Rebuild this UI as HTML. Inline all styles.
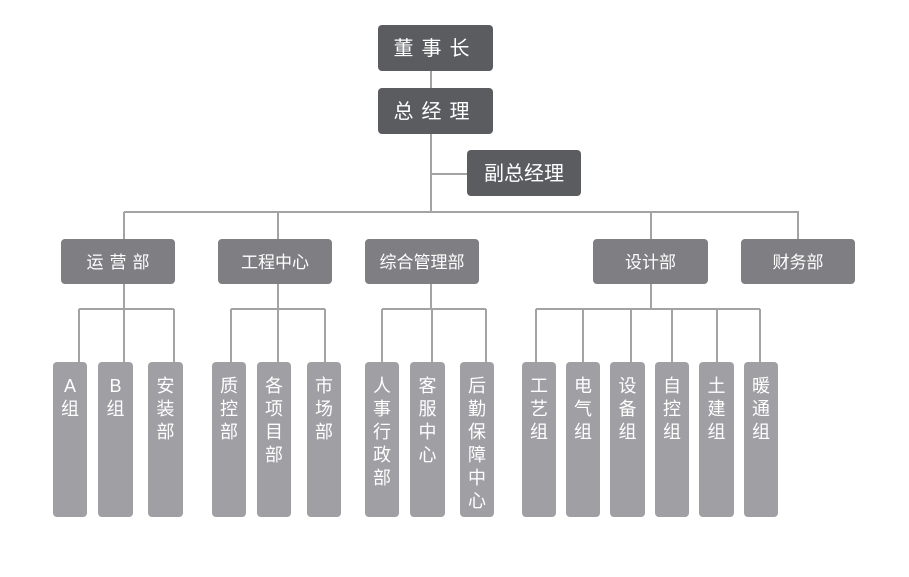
<!DOCTYPE html>
<html><head><meta charset="utf-8"><style>
html,body{margin:0;padding:0;background:#fff;}
svg{display:block;}
text{font-family:"Liberation Sans","Noto Sans CJK SC",sans-serif;fill:#fff;}
</style></head><body>
<svg width="909" height="577" viewBox="0 0 909 577" xmlns="http://www.w3.org/2000/svg">
<g stroke="#a3a3a6" stroke-width="2" fill="none">
<line x1="431" y1="71" x2="431" y2="212"/>
<line x1="431" y1="174" x2="467" y2="174"/>
<line x1="124" y1="212" x2="799" y2="212"/>
<line x1="124" y1="212" x2="124" y2="239"/>
<line x1="278" y1="212" x2="278" y2="239"/>
<line x1="651" y1="212" x2="651" y2="239"/>
<line x1="798" y1="212" x2="798" y2="239"/>
<line x1="124" y1="284" x2="124" y2="309"/>
<line x1="278" y1="284" x2="278" y2="309"/>
<line x1="431" y1="284" x2="431" y2="309"/>
<line x1="651" y1="284" x2="651" y2="309"/>
<line x1="79" y1="309" x2="174" y2="309"/>
<line x1="231" y1="309" x2="325" y2="309"/>
<line x1="382" y1="309" x2="486" y2="309"/>
<line x1="536" y1="309" x2="760" y2="309"/>
<line x1="79" y1="309" x2="79" y2="362"/><line x1="124" y1="309" x2="124" y2="362"/><line x1="174" y1="309" x2="174" y2="362"/>
<line x1="231" y1="309" x2="231" y2="362"/><line x1="278" y1="309" x2="278" y2="362"/><line x1="325" y1="309" x2="325" y2="362"/>
<line x1="382" y1="309" x2="382" y2="362"/><line x1="432" y1="309" x2="432" y2="362"/><line x1="486" y1="309" x2="486" y2="362"/>
<line x1="536" y1="309" x2="536" y2="362"/><line x1="583" y1="309" x2="583" y2="362"/><line x1="631" y1="309" x2="631" y2="362"/>
<line x1="672" y1="309" x2="672" y2="362"/><line x1="717" y1="309" x2="717" y2="362"/><line x1="760" y1="309" x2="760" y2="362"/>
</g>
<g fill="#5b5c60">
<rect x="378" y="25" width="115" height="46" rx="4"/>
<rect x="378" y="88" width="115" height="46" rx="4"/>
<rect x="467" y="150" width="114" height="46" rx="4"/>
</g>
<g font-size="20" text-anchor="middle">
<text x="435.5" y="55" letter-spacing="8">董事长</text>
<text x="435.5" y="118" letter-spacing="8">总经理</text>
<text x="524" y="180">副总经理</text>
</g>
<g fill="#7f7f83">
<rect x="61" y="239" width="114" height="45" rx="4"/>
<rect x="218" y="239" width="114" height="45" rx="4"/>
<rect x="365" y="239" width="114" height="45" rx="4"/>
<rect x="593" y="239" width="115" height="45" rx="4"/>
<rect x="741" y="239" width="114" height="45" rx="4"/>
</g>
<g font-size="17" text-anchor="middle">
<text x="121" y="268" letter-spacing="6">运营部</text>
<text x="275" y="268">工程中心</text>
<text x="422" y="268">综合管理部</text>
<text x="650.5" y="268">设计部</text>
<text x="798" y="268">财务部</text>
</g>
<g fill="#a0a0a4">
<rect x="53" y="362" width="34" height="155" rx="4"/>
<rect x="98" y="362" width="35" height="155" rx="4"/>
<rect x="148" y="362" width="35" height="155" rx="4"/>
<rect x="212" y="362" width="34" height="155" rx="4"/>
<rect x="257" y="362" width="34" height="155" rx="4"/>
<rect x="307" y="362" width="34" height="155" rx="4"/>
<rect x="365" y="362" width="34" height="155" rx="4"/>
<rect x="410" y="362" width="35" height="155" rx="4"/>
<rect x="460" y="362" width="34" height="155" rx="4"/>
<rect x="522" y="362" width="34" height="155" rx="4"/>
<rect x="566" y="362" width="34" height="155" rx="4"/>
<rect x="610" y="362" width="35" height="155" rx="4"/>
<rect x="655" y="362" width="34" height="155" rx="4"/>
<rect x="699" y="362" width="35" height="155" rx="4"/>
<rect x="744" y="362" width="34" height="155" rx="4"/>
</g>
<g font-size="18" text-anchor="middle">
<text x="70" y="392">A</text><text x="70" y="415">组</text>
<text x="115.5" y="392">B</text><text x="115.5" y="415">组</text>
<text x="165.5" y="392">安</text><text x="165.5" y="415">装</text><text x="165.5" y="438">部</text>
<text x="229" y="392">质</text><text x="229" y="415">控</text><text x="229" y="438">部</text>
<text x="274" y="392">各</text><text x="274" y="415">项</text><text x="274" y="438">目</text><text x="274" y="461">部</text>
<text x="324" y="392">市</text><text x="324" y="415">场</text><text x="324" y="438">部</text>
<text x="382" y="392">人</text><text x="382" y="415">事</text><text x="382" y="438">行</text><text x="382" y="461">政</text><text x="382" y="484">部</text>
<text x="427.5" y="392">客</text><text x="427.5" y="415">服</text><text x="427.5" y="438">中</text><text x="427.5" y="461">心</text>
<text x="477" y="392">后</text><text x="477" y="415">勤</text><text x="477" y="438">保</text><text x="477" y="461">障</text><text x="477" y="484">中</text><text x="477" y="507">心</text>
<text x="539" y="392">工</text><text x="539" y="415">艺</text><text x="539" y="438">组</text>
<text x="583" y="392">电</text><text x="583" y="415">气</text><text x="583" y="438">组</text>
<text x="627.5" y="392">设</text><text x="627.5" y="415">备</text><text x="627.5" y="438">组</text>
<text x="672" y="392">自</text><text x="672" y="415">控</text><text x="672" y="438">组</text>
<text x="716.5" y="392">土</text><text x="716.5" y="415">建</text><text x="716.5" y="438">组</text>
<text x="761" y="392">暖</text><text x="761" y="415">通</text><text x="761" y="438">组</text>
</g>
</svg>
</body></html>
